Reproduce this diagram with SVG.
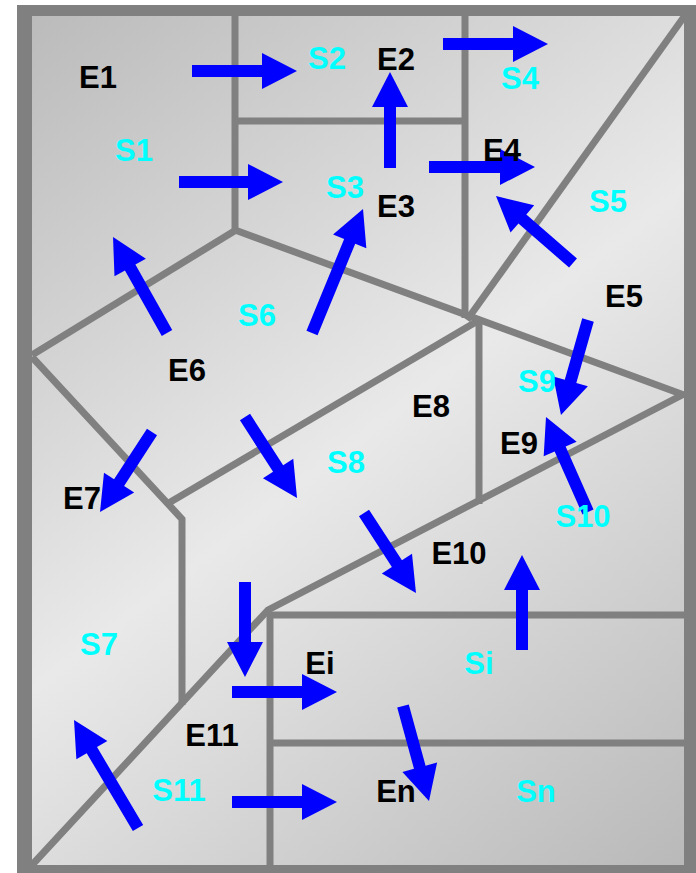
<svg xmlns="http://www.w3.org/2000/svg" width="696" height="873" viewBox="0 0 696 873">
<defs>
<linearGradient id="bg" x1="32" y1="16" x2="684" y2="865" gradientUnits="userSpaceOnUse">
<stop offset="0" stop-color="#bbbbbb"/>
<stop offset="0.5" stop-color="#e9e9e9"/>
<stop offset="1" stop-color="#b9b9b9"/>
</linearGradient>
<style>
.wall{fill:none;stroke:#808080;stroke-width:7;stroke-linejoin:miter;stroke-linecap:butt}
.arr{fill:#0000ff;stroke:none}
.e{font-family:"Liberation Sans",Arial,sans-serif;font-weight:bold;font-size:31px;fill:#000;text-anchor:middle}
.s{font-family:"Liberation Sans",Arial,sans-serif;font-weight:bold;font-size:31px;fill:#00ffff;text-anchor:middle}
</style>
</defs>
<rect x="0" y="0" width="696" height="873" fill="#ffffff"/>
<rect x="17" y="5" width="679" height="868" fill="#808080"/>
<rect x="32" y="16" width="652" height="849" fill="url(#bg)"/>
<g id="walls">
<line class="wall" x1="235" y1="16" x2="235" y2="232"/>
<line class="wall" x1="235" y1="121" x2="465" y2="121"/>
<line class="wall" x1="465" y1="16" x2="465" y2="318"/>
<line class="wall" x1="235" y1="230" x2="684" y2="395"/>
<line class="wall" x1="236" y1="230" x2="32" y2="355"/>
<line class="wall" x1="686" y1="14" x2="467" y2="320"/>
<line class="wall" x1="479" y1="318" x2="479" y2="504"/>
<line class="wall" x1="481" y1="319" x2="167" y2="504"/>
<polyline class="wall" points="32,357 182,519 182,705"/>
<polyline class="wall" points="32,865 268,610 684,394"/>
<line class="wall" x1="267" y1="615" x2="684" y2="615"/>
<line class="wall" x1="270" y1="612" x2="270" y2="865"/>
<line class="wall" x1="270" y1="743" x2="684" y2="743"/>
</g>
<g id="connectors">
<polygon class="arr" transform="translate(192,71)" points="0,-6 70,-6 70,-18 105,0 70,18 70,6 0,6"/>
<polygon class="arr" transform="translate(179,182)" points="0,-6 69,-6 69,-18 104,0 69,18 69,6 0,6"/>
<polygon class="arr" transform="translate(443,44)" points="0,-6 70,-6 70,-18 105,0 70,18 70,6 0,6"/>
<polygon class="arr" transform="translate(390,168) rotate(-90)" points="0,-6 61,-6 61,-18 96,0 61,18 61,6 0,6"/>
<polygon class="arr" transform="translate(429,167)" points="0,-6 71,-6 71,-18 106,0 71,18 71,6 0,6"/>
<polygon class="arr" transform="translate(573,263) rotate(-138.97)" points="0,-6 67.1,-6 67.1,-18 102.1,0 67.1,18 67.1,6 0,6"/>
<polygon class="arr" transform="translate(312,333) rotate(-67.64)" points="0,-6 99.1,-6 99.1,-18 134.1,0 99.1,18 99.1,6 0,6"/>
<polygon class="arr" transform="translate(167,333) rotate(-119.36)" points="0,-6 75.1,-6 75.1,-18 110.1,0 75.1,18 75.1,6 0,6"/>
<polygon class="arr" transform="translate(152,432) rotate(123.02)" points="0,-6 60.4,-6 60.4,-18 95.4,0 60.4,18 60.4,6 0,6"/>
<polygon class="arr" transform="translate(245,417) rotate(57.3)" points="0,-6 61.3,-6 61.3,-18 96.3,0 61.3,18 61.3,6 0,6"/>
<polygon class="arr" transform="translate(588,320) rotate(105.87)" points="0,-6 63.8,-6 63.8,-18 98.8,0 63.8,18 63.8,6 0,6"/>
<polygon class="arr" transform="translate(588,512) rotate(-113.85)" points="0,-6 68.9,-6 68.9,-18 103.9,0 68.9,18 68.9,6 0,6"/>
<polygon class="arr" transform="translate(364,513) rotate(56.98)" points="0,-6 60.4,-6 60.4,-18 95.4,0 60.4,18 60.4,6 0,6"/>
<polygon class="arr" transform="translate(522,650) rotate(-90)" points="0,-6 60,-6 60,-18 95,0 60,18 60,6 0,6"/>
<polygon class="arr" transform="translate(245,582) rotate(90)" points="0,-6 60,-6 60,-18 95,0 60,18 60,6 0,6"/>
<polygon class="arr" transform="translate(232,692)" points="0,-6 70,-6 70,-18 105,0 70,18 70,6 0,6"/>
<polygon class="arr" transform="translate(232,802)" points="0,-6 70,-6 70,-18 105,0 70,18 70,6 0,6"/>
<polygon class="arr" transform="translate(138,828) rotate(-120.65)" points="0,-6 90.5,-6 90.5,-18 125.5,0 90.5,18 90.5,6 0,6"/>
<polygon class="arr" transform="translate(403,706) rotate(74.69)" points="0,-6 63.5,-6 63.5,-18 98.5,0 63.5,18 63.5,6 0,6"/>
</g>
<g id="E1"><text class="e" x="98" y="88">E1</text></g>
<g id="S1"><text class="s" x="134" y="161">S1</text></g>
<g id="S2"><text class="s" x="327" y="69">S2</text></g>
<g id="E2"><text class="e" x="396" y="70">E2</text></g>
<g id="S4"><text class="s" x="520" y="89">S4</text></g>
<g id="E4"><text class="e" x="502" y="161">E4</text></g>
<g id="S3"><text class="s" x="345" y="198">S3</text></g>
<g id="E3"><text class="e" x="396" y="217">E3</text></g>
<g id="S5"><text class="s" x="608" y="212">S5</text></g>
<g id="E5"><text class="e" x="624" y="307">E5</text></g>
<g id="S6"><text class="s" x="257" y="326">S6</text></g>
<g id="E6"><text class="e" x="187" y="381">E6</text></g>
<g id="E7"><text class="e" x="82" y="509">E7</text></g>
<g id="S8"><text class="s" x="346" y="473">S8</text></g>
<g id="E8"><text class="e" x="431" y="417">E8</text></g>
<g id="S9"><text class="s" x="537" y="392">S9</text></g>
<g id="E9"><text class="e" x="519" y="454">E9</text></g>
<g id="S10"><text class="s" x="583" y="527">S10</text></g>
<g id="E10"><text class="e" x="459" y="564">E10</text></g>
<g id="S7"><text class="s" x="99" y="655">S7</text></g>
<g id="Ei"><text class="e" x="320" y="674">Ei</text></g>
<g id="E11"><text class="e" x="212" y="746">E11</text></g>
<g id="S11"><text class="s" x="179" y="801">S11</text></g>
<g id="Si"><text class="s" x="479" y="674">Si</text></g>
<g id="En"><text class="e" x="396" y="802">En</text></g>
<g id="Sn"><text class="s" x="536" y="802">Sn</text></g>
</svg>
